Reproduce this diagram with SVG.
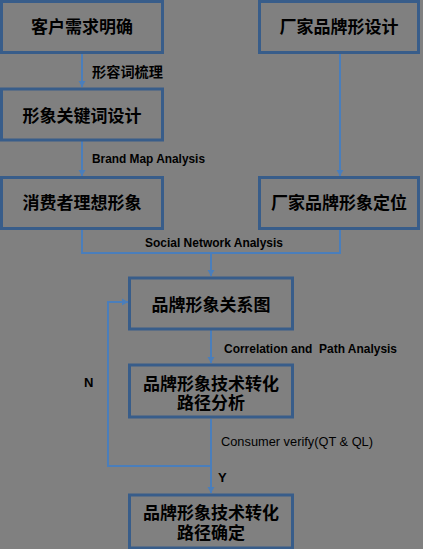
<svg xmlns="http://www.w3.org/2000/svg" width="423" height="549" viewBox="0 0 423 549">
<style>
.box{fill:#808080;stroke:#385d8a;stroke-width:3}
.t{font-family:"Noto Sans CJK SC","Noto Sans",sans-serif;font-weight:bold;font-size:17px;fill:#000;text-anchor:middle}
.c{fill:none;stroke:#4a7ebb;stroke-width:2}
.lz{font-family:"Noto Sans CJK SC",sans-serif;font-weight:bold;font-size:14px;fill:#000}
.le{font-family:"Liberation Sans",Arial,sans-serif;font-weight:bold;font-size:13px;fill:#000}
.ln{font-family:"Liberation Sans",Arial,sans-serif;font-size:13px;fill:#000}
</style>
<defs>
<marker id="ar" markerWidth="8" markerHeight="8" refX="6" refY="4" orient="auto" markerUnits="userSpaceOnUse">
<path d="M0,0.5 L6,4 L0,7.5 Z" fill="#4a7ebb"/>
</marker>
</defs>
<rect width="423" height="549" fill="#808080"/>
<g id="connectors">
<line class="c" x1="82" y1="54" x2="82" y2="87" marker-end="url(#ar)"/>
<line class="c" x1="82" y1="141" x2="82" y2="176" marker-end="url(#ar)"/>
<line class="c" x1="340" y1="54" x2="340" y2="176" marker-end="url(#ar)"/>
<polyline class="c" points="82,230 82,253 340,253 340,230"/>
<line class="c" x1="211" y1="253" x2="211" y2="276" marker-end="url(#ar)"/>
<line class="c" x1="211" y1="330" x2="211" y2="363" marker-end="url(#ar)"/>
<line class="c" x1="211" y1="419" x2="211" y2="493" marker-end="url(#ar)"/>
<polyline class="c" points="211,466 108,466 108,302 128,302" marker-end="url(#ar)"/>
<text class="lz" x="92" y="77" textLength="71" lengthAdjust="spacingAndGlyphs">形容词梳理</text>
<text class="le" x="92" y="163" textLength="113" lengthAdjust="spacingAndGlyphs">Brand Map Analysis</text>
<text class="le" x="145" y="247" textLength="138" lengthAdjust="spacingAndGlyphs">Social Network Analysis</text>
<text class="le" x="224" y="353" textLength="173" lengthAdjust="spacingAndGlyphs" xml:space="preserve">Correlation and  Path Analysis</text>
<text class="ln" x="221" y="446" textLength="152" lengthAdjust="spacingAndGlyphs">Consumer verify(QT &amp; QL)</text>
<text class="le" x="218" y="482">Y</text>
<text class="le" x="84" y="387">N</text>
</g>
<g id="n1"><rect class="box" x="1.5" y="1.5" width="161" height="51"/><text class="t" x="82" y="33">客户需求明确</text></g>
<g id="n2"><rect class="box" x="259.5" y="1.5" width="159" height="51"/><text class="t" x="339" y="33">厂家品牌形设计</text></g>
<g id="n3"><rect class="box" x="1.5" y="89" width="161" height="51"/><text class="t" x="82" y="122">形象关键词设计</text></g>
<g id="n4"><rect class="box" x="1.5" y="177.5" width="161" height="51"/><text class="t" x="82" y="209">消费者理想形象</text></g>
<g id="n5"><rect class="box" x="259.5" y="177.5" width="159" height="51"/><text class="t" x="339" y="209">厂家品牌形象定位</text></g>
<g id="n6"><rect class="box" x="129.5" y="278" width="163" height="51"/><text class="t" x="211" y="311">品牌形象关系图</text></g>
<g id="n7"><rect class="box" x="129.5" y="365" width="163" height="52"/><text class="t" x="211" y="390">品牌形象技术转化<tspan x="211" dy="18.5">路径分析</tspan></text></g>
<g id="n8"><rect class="box" x="129.5" y="495" width="163" height="53"/><text class="t" x="211" y="519">品牌形象技术转化<tspan x="211" dy="20">路径确定</tspan></text></g>
</svg>
